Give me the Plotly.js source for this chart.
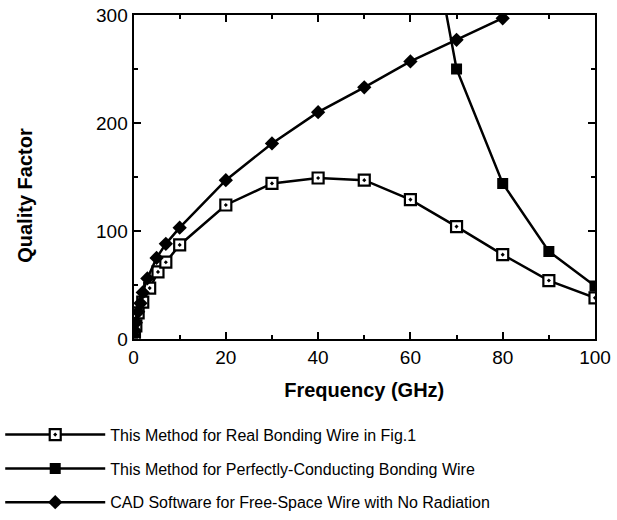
<!DOCTYPE html>
<html>
<head>
<meta charset="utf-8">
<script src="https://cdn.plot.ly/plotly-3.0.1.min.js"></script>
<style>html,body{margin:0;padding:0;background:#fff}#chart{width:617px;height:520px}</style>
</head>
<body>
<div id="chart"></div>
<script>
// Frequency (GHz) and quality factor values
var realFreq = [0.2, 0.5, 1, 2, 3.5, 5.3, 7, 10, 20, 30, 40, 50, 60, 70, 80, 90, 100];
var realQ    = [4, 12, 24, 34, 47, 62, 71, 87, 124, 144, 149, 147, 129, 104, 78, 54, 38];

var perfFreq = [60, 70, 80, 90, 100];
var perfQ    = [480, 250, 144, 81, 49];

var cadFreq = [0.1, 0.2, 0.5, 1, 1.5, 2, 3, 5, 7, 10, 20, 30, 40, 50, 60, 70, 80];
var cadQ    = [3, 8, 15, 25, 33, 43, 56, 75, 88, 103, 147, 181, 210, 233, 257, 277, 297];

var seriesNames = [
  'This Method for Real Bonding Wire in Fig.1',
  'This Method for Perfectly-Conducting Bonding Wire',
  'CAD Software for Free-Space Wire with No Radiation'
];
var xTitle = 'Frequency (GHz)';
var yTitle = 'Quality Factor';

var FONT = 'Liberation Sans, Arial, Helvetica, sans-serif';

var traces = [
  {x: realFreq, y: realQ, name: seriesNames[0], legendgroup: 'a', mode: 'lines+markers', type: 'scatter',
   line: {color: '#000', width: 2.5},
   marker: {symbol: 'square-dot', size: 11, color: '#fff', line: {color: '#000', width: 2.2}}},
  {x: perfFreq, y: perfQ, name: seriesNames[1], legendgroup: 'b', mode: 'lines+markers', type: 'scatter',
   line: {color: '#000', width: 2.5},
   marker: {symbol: 'square', size: 11, color: '#000'}},
  {x: cadFreq, y: cadQ, name: seriesNames[2], legendgroup: 'c', mode: 'lines+markers', type: 'scatter',
   line: {color: '#000', width: 2.5},
   marker: {symbol: 'diamond', size: 11, color: '#000'}}
];

var axisCommon = {
  showgrid: false, zeroline: false, showline: true, linecolor: '#000', linewidth: 2,
  mirror: 'allticks', ticks: 'inside', ticklen: 7, tickwidth: 2, tickcolor: '#000',
  tickfont: {family: FONT, size: 19, color: '#000'}
};

var layout = {
  width: 617, height: 520,
  margin: {l: 0, r: 22, t: 15, b: 0},
  paper_bgcolor: '#fff', plot_bgcolor: '#fff',
  font: {family: FONT, color: '#000'},
  showlegend: true,
  legend: {x: -0.003, xanchor: 'left', y: 0.193, yanchor: 'top', orientation: 'v',
           font: {family: FONT, size: 16, color: '#000'}, tracegroupgap: 10, itemwidth: 100,
           bgcolor: 'rgba(0,0,0,0)'},
  xaxis: Object.assign({}, axisCommon, {
    domain: [0.2218, 1],
    range: [0, 100], dtick: 20, tick0: 0,
    minor: {dtick: 10, ticks: 'inside', ticklen: 4, tickwidth: 2, tickcolor: '#000'},
    title: {text: '<b>' + xTitle + '</b>', font: {family: FONT, size: 20, color: '#000'}, standoff: 16}
  }),
  yaxis: Object.assign({}, axisCommon, {
    domain: [0.351, 1],
    range: [0, 300], dtick: 100, tick0: 0,
    minor: {dtick: 50, ticks: 'inside', ticklen: 4, tickwidth: 2, tickcolor: '#000'}
  }),
  annotations: [
    {text: '<b>' + yTitle + '</b>', xref: 'paper', yref: 'paper', x: 0.0387, y: 0.6396,
     xanchor: 'center', yanchor: 'middle', textangle: -90, showarrow: false,
     font: {family: FONT, size: 20, color: '#000'}}
  ]
};

Plotly.newPlot('chart', traces, layout, {displayModeBar: false, staticPlot: true});
</script>
</body>
</html>
